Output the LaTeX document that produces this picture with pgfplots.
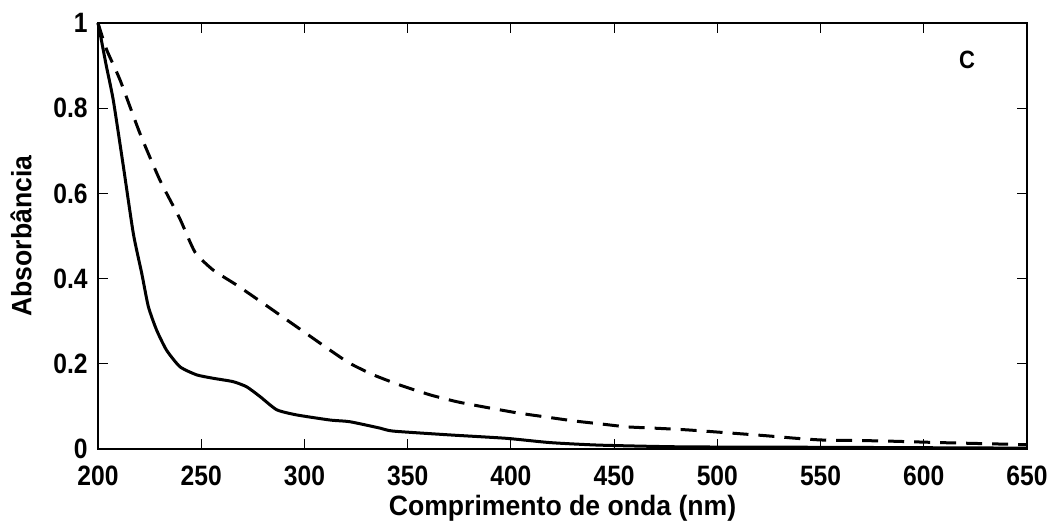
\documentclass[border=0pt]{standalone}
\usepackage{fontspec}
\setmainfont{Liberation Sans}[FakeStretch=0.88]
\newfontfamily\labelfont{Liberation Sans}[FakeStretch=0.95]
\usepackage{pgfplots}
\pgfplotsset{compat=1.18}

\begin{document}
\fontsize{14pt}{17pt}\selectfont\bfseries
\begin{tikzpicture}
\useasboundingbox (0,0) rectangle (527pt,261pt);
\begin{axis}[
  at={(49pt,36.5pt)}, anchor=south west,
  scale only axis, width=464.5pt, height=213pt,
  xmin=200, xmax=650, ymin=0, ymax=1,
  xtick={200,250,...,650},
  ytick={0,0.2,...,1},
  yticklabels={0,0.2,0.4,0.6,0.8,1},
  tick pos=both, tick align=inside,
  major tick length=5pt,
  axis line style={line width=0.75pt},
  every tick/.style={line width=0.6pt, black},
  /pgf/number format/assume math mode=true,
  ticklabel style={font=\fontsize{14pt}{17pt}\selectfont\bfseries, inner sep=0pt},
  xticklabel style={yshift=-8.5pt},
  yticklabel style={xshift=-5pt},
  label style={font=\labelfont\fontsize{14pt}{17pt}\selectfont\bfseries},
  xlabel={Comprimento de onda (nm)},
  ylabel={Absorbância},
  xlabel style={yshift=0.5pt},
  ylabel style={yshift=6pt},
  clip=false,
]
% amostra 1 (linha contínua)
\addplot[black, line width=1.5pt, smooth, tension=0.35] coordinates {
(200,1.0) (201,0.976) (204,0.90) (207.4,0.819) (212.3,0.663) (217.1,0.506)
(221.2,0.412) (224.4,0.334) (228.4,0.279) (233.2,0.232) (239.7,0.193)
(247.8,0.174) (255.8,0.166) (265.5,0.158) (272,0.146) (278.5,0.123)
(286.6,0.092) (296.2,0.080) (312.4,0.068) (322,0.064) (336.6,0.049)
(343,0.042) (370.5,0.033) (397.9,0.025) (419,0.015) (443.2,0.009)
(483.5,0.005) (550,0.004) (600,0.003) (650,0.002)
};
% amostra 2 (linha tracejada)
\addplot[black, line width=1.5pt, dash pattern=on 8pt off 5pt, smooth, tension=0.35] coordinates {
(200,1.0) (204.2,0.937) (210.7,0.866) (220.3,0.741) (230,0.631)
(239.7,0.540) (247,0.462) (255.8,0.420) (267.1,0.385) (280,0.342)
(296.2,0.287) (312.4,0.232) (322,0.201) (333.4,0.174) (346.3,0.150)
(360.9,0.127) (373.8,0.111) (386.6,0.099) (402.8,0.085) (415.7,0.076)
(430.3,0.066) (443.2,0.059) (456.1,0.052) (469,0.049) (485,0.045)
(507.7,0.037) (523.9,0.031) (538.4,0.025) (551.3,0.021) (578.9,0.019)
(608,0.015) (633.8,0.012) (650,0.010)
};
\node[font=\fontsize{12.5pt}{15pt}\selectfont\bfseries] at (axis cs:621,0.913) {C};
\end{axis}
\end{tikzpicture}
\end{document}
